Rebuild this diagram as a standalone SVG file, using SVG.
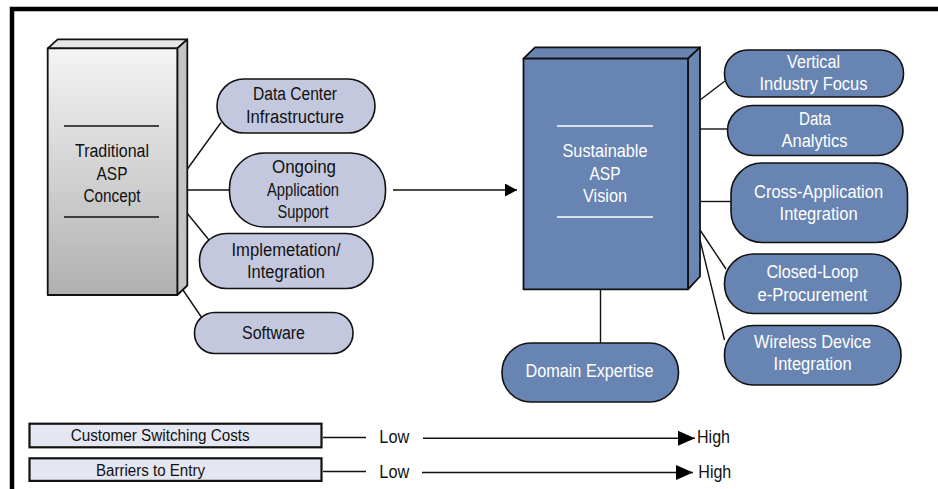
<svg xmlns="http://www.w3.org/2000/svg" width="938" height="489" viewBox="0 0 938 489">
  <defs>
    <linearGradient id="greyFace" x1="0" y1="0" x2="0" y2="1">
      <stop offset="0" stop-color="#f4f4f4"/>
      <stop offset="0.45" stop-color="#d6d6d6"/>
      <stop offset="1" stop-color="#b0b0b0"/>
    </linearGradient>
    <marker id="headSmall" markerUnits="userSpaceOnUse" markerWidth="12" markerHeight="13" refX="12" refY="6.5" orient="auto">
      <path d="M0,0 L12,6.5 L0,13 Z" fill="#000"/>
    </marker>
    <marker id="headLarge" markerUnits="userSpaceOnUse" markerWidth="17" markerHeight="15" refX="17" refY="7.5" orient="auto">
      <path d="M0,0 L17,7.5 L0,15 Z" fill="#000"/>
    </marker>
  </defs>
  <style>
    text { font-family: "Liberation Sans", Arial, sans-serif; font-size: 18px; fill: #111; }
    .light text { fill: #fff; }
    .mid { text-anchor: middle; }
    .pill-old { fill: #c4c8df; stroke: #111; stroke-width: 1.6; }
    .pill-new { fill: #6784b2; stroke: #111; stroke-width: 1.6; }
    .edge { stroke: #111; stroke-width: 1.4; fill: none; }
    .box3d { stroke: #111; stroke-width: 1.8; stroke-linejoin: round; }
    .scale { fill: #e4e6f1; stroke: #111; stroke-width: 2.2; }
    .small { font-size: 16px; }
  </style>

  <rect width="938" height="489" fill="#fff"/>

  <!-- frame: top and left rules -->
  <path d="M12,489 V9 H938" fill="none" stroke="#000" stroke-width="4.5"/>

  <!-- connectors -->
  <g id="connectors">
    <line class="edge" x1="187" y1="169.5" x2="221" y2="122.5"/>
    <line class="edge" x1="187" y1="190" x2="229.5" y2="190"/>
    <line class="edge" x1="187" y1="213" x2="209" y2="240"/>
    <line class="edge" x1="183" y1="290" x2="202" y2="318"/>
    <line class="edge" x1="393" y1="190" x2="517" y2="190" marker-end="url(#headSmall)"/>
    <line class="edge" x1="700" y1="100" x2="725" y2="81"/>
    <line class="edge" x1="700" y1="129" x2="727.5" y2="129"/>
    <line class="edge" x1="700" y1="201.5" x2="731" y2="201.5"/>
    <line class="edge" x1="700" y1="230" x2="726" y2="269"/>
    <line class="edge" x1="700" y1="240" x2="724.5" y2="340"/>
    <line class="edge" x1="600.5" y1="289.5" x2="600.5" y2="343"/>
    <line class="edge" x1="323" y1="437.5" x2="366" y2="437.5"/>
    <line class="edge" x1="423" y1="438.3" x2="695" y2="438.3" marker-end="url(#headLarge)"/>
    <line class="edge" x1="323" y1="471.5" x2="366" y2="471.5"/>
    <line class="edge" x1="422" y1="472.5" x2="693" y2="472.5" marker-end="url(#headLarge)"/>
  </g>

  <!-- traditional concept block -->
  <g id="traditional">
    <polygon class="box3d" points="47.7,48.3 57.7,39.3 187.3,39.3 177.3,48.3" fill="#e6e6e6"/>
    <polygon class="box3d" points="177.3,48.3 187.3,39.3 187.3,285.5 177.3,295" fill="#c4c4c4"/>
    <rect class="box3d" x="47.7" y="48.3" width="129.6" height="246.7" fill="url(#greyFace)"/>
    <line x1="64" y1="126" x2="159" y2="126" stroke="#111" stroke-width="1.4"/>
    <line x1="64" y1="217" x2="159" y2="217" stroke="#111" stroke-width="1.4"/>
    <text class="mid" x="112" y="157" textLength="74" lengthAdjust="spacingAndGlyphs">Traditional</text>
    <text class="mid" x="112" y="179.5" textLength="31" lengthAdjust="spacingAndGlyphs">ASP</text>
    <text class="mid" x="112" y="201.5" textLength="57" lengthAdjust="spacingAndGlyphs">Concept</text>
  </g>

  <g id="data-center">
    <rect class="pill-old" x="217" y="79" width="158" height="54" rx="27"/>
    <text class="mid" x="295" y="100.3" textLength="84" lengthAdjust="spacingAndGlyphs">Data Center</text>
    <text class="mid" x="295" y="123" textLength="98" lengthAdjust="spacingAndGlyphs">Infrastructure</text>
  </g>

  <g id="ongoing-support">
    <rect class="pill-old" x="229.5" y="153" width="156" height="74" rx="35"/>
    <text class="mid" x="304" y="172.5" textLength="64" lengthAdjust="spacingAndGlyphs">Ongoing</text>
    <text class="mid" x="303" y="195.5" textLength="72" lengthAdjust="spacingAndGlyphs">Application</text>
    <text class="mid" x="303" y="218" textLength="51" lengthAdjust="spacingAndGlyphs">Support</text>
  </g>

  <g id="implementation">
    <rect class="pill-old" x="199.5" y="233.5" width="173.5" height="55" rx="27"/>
    <text class="mid" x="286" y="255.7" textLength="109" lengthAdjust="spacingAndGlyphs">Implemetation/</text>
    <text class="mid" x="286" y="277.5" textLength="78" lengthAdjust="spacingAndGlyphs">Integration</text>
  </g>

  <g id="software">
    <rect class="pill-old" x="194.5" y="312.5" width="158.5" height="41" rx="20"/>
    <text class="mid" x="273.5" y="339" textLength="63" lengthAdjust="spacingAndGlyphs">Software</text>
  </g>

  <!-- sustainable vision block -->
  <g id="sustainable" class="light">
    <polygon class="box3d" points="523.5,58.7 535,47.3 700,47.3 688,58.7" fill="#6784b2"/>
    <polygon class="box3d" points="688,58.7 700,47.3 700,276.5 688,289.3" fill="#6a86b3"/>
    <rect class="box3d" x="523.5" y="58.7" width="164.5" height="230.6" fill="#6784b2"/>
    <line x1="557" y1="126" x2="653" y2="126" stroke="#fff" stroke-width="1.4"/>
    <line x1="557" y1="217" x2="653" y2="217" stroke="#fff" stroke-width="1.4"/>
    <text class="mid" x="605" y="157" textLength="85" lengthAdjust="spacingAndGlyphs">Sustainable</text>
    <text class="mid" x="605" y="179.5" textLength="31" lengthAdjust="spacingAndGlyphs">ASP</text>
    <text class="mid" x="605" y="202" textLength="44" lengthAdjust="spacingAndGlyphs">Vision</text>
  </g>

  <g id="vertical-focus" class="light">
    <rect class="pill-new" x="724.5" y="50" width="179" height="47" rx="23"/>
    <text class="mid" x="813.5" y="68" textLength="53" lengthAdjust="spacingAndGlyphs">Vertical</text>
    <text class="mid" x="813.5" y="90.3" textLength="108" lengthAdjust="spacingAndGlyphs">Industry Focus</text>
  </g>

  <g id="data-analytics" class="light">
    <rect class="pill-new" x="727.5" y="105.5" width="175.5" height="50" rx="25"/>
    <text class="mid" x="815" y="124.7" textLength="32" lengthAdjust="spacingAndGlyphs">Data</text>
    <text class="mid" x="814.5" y="147.3" textLength="66" lengthAdjust="spacingAndGlyphs">Analytics</text>
  </g>

  <g id="cross-application" class="light">
    <rect class="pill-new" x="731" y="163" width="176.5" height="79.5" rx="31"/>
    <text class="mid" x="818.6" y="198" textLength="129" lengthAdjust="spacingAndGlyphs">Cross-Application</text>
    <text class="mid" x="818.6" y="220.3" textLength="78" lengthAdjust="spacingAndGlyphs">Integration</text>
  </g>

  <g id="closed-loop" class="light">
    <rect class="pill-new" x="724.5" y="254" width="176.5" height="59.5" rx="29"/>
    <text class="mid" x="812.4" y="278" textLength="92" lengthAdjust="spacingAndGlyphs">Closed-Loop</text>
    <text class="mid" x="812.4" y="301.3" textLength="110" lengthAdjust="spacingAndGlyphs">e-Procurement</text>
  </g>

  <g id="wireless" class="light">
    <rect class="pill-new" x="724.5" y="325.5" width="176.5" height="59.5" rx="29"/>
    <text class="mid" x="812.6" y="348" textLength="117" lengthAdjust="spacingAndGlyphs">Wireless Device</text>
    <text class="mid" x="812.6" y="370.3" textLength="78" lengthAdjust="spacingAndGlyphs">Integration</text>
  </g>

  <g id="domain-expertise" class="light">
    <rect class="pill-new" x="502" y="343" width="176.5" height="59" rx="29"/>
    <text class="mid" x="589.5" y="377" textLength="128" lengthAdjust="spacingAndGlyphs">Domain Expertise</text>
  </g>

  <!-- low-to-high scales -->
  <g id="switching-costs">
    <rect class="scale" x="29.5" y="423.7" width="292" height="23.6"/>
    <text class="small" x="70.7" y="441" textLength="179" lengthAdjust="spacingAndGlyphs">Customer Switching Costs</text>
    <text x="379.3" y="443.3" textLength="30" lengthAdjust="spacingAndGlyphs">Low</text>
    <text x="697" y="443.3" textLength="33" lengthAdjust="spacingAndGlyphs">High</text>
  </g>

  <g id="entry-barriers">
    <rect class="scale" x="29.5" y="458.3" width="292" height="22.6"/>
    <text class="small" x="96" y="476" textLength="109" lengthAdjust="spacingAndGlyphs">Barriers to Entry</text>
    <text x="379.3" y="477.7" textLength="30" lengthAdjust="spacingAndGlyphs">Low</text>
    <text x="698.3" y="477.7" textLength="33" lengthAdjust="spacingAndGlyphs">High</text>
  </g>
</svg>
